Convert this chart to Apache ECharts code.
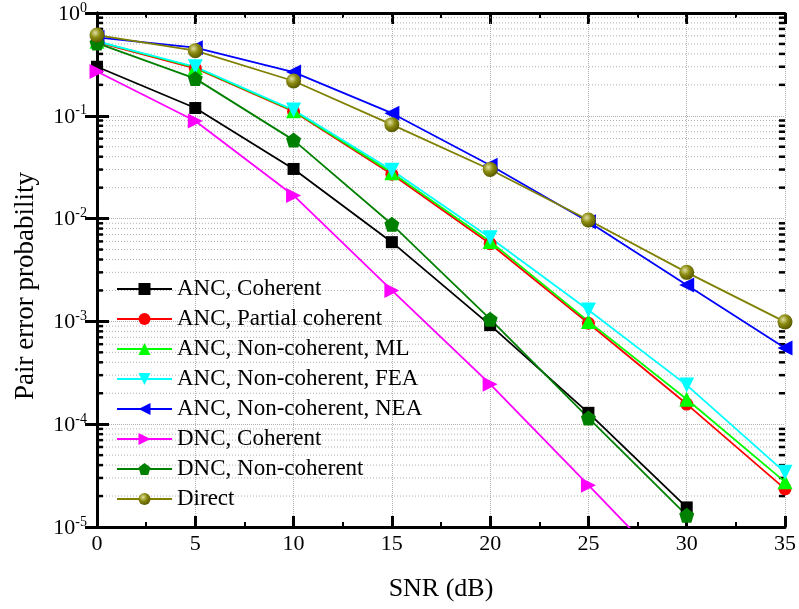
<!DOCTYPE html>
<html>
<head>
<meta charset="utf-8">
<script src="https://cdn.jsdelivr.net/npm/echarts@6/dist/echarts.min.js"></script>
<style>html,body{margin:0;padding:0;background:#fff}#c{width:799px;height:609px}</style>
</head>
<body>
<div id="c"></div>
<script>
const snr = [0, 5, 10, 15, 20, 25, 30, 35];
const ancCoherent = [0.30, 0.119, 0.0304, 0.0059, 9.2e-4, 1.29e-4, 1.55e-5];
const ancPartial = [0.52, 0.29, 0.11, 0.027, 0.0057, 9.6e-4, 1.57e-4, 2.35e-5];
const ancNcML = [0.53, 0.295, 0.112, 0.028, 0.006, 1.0e-3, 1.75e-4, 2.75e-5];
const ancNcFEA = [0.53, 0.30, 0.114, 0.0296, 0.0065, 1.29e-3, 2.4e-4, 3.4e-5];
const ancNcNEA = [0.58, 0.46, 0.266, 0.106, 0.033, 0.0093, 0.00226, 5.5e-4];
const dncCoherent = [0.27, 0.089, 0.0168, 0.0020, 2.45e-4, 2.55e-5, 2.6e-6];
const dncNc = [0.51, 0.23, 0.058, 0.0088, 1.05e-3, 1.15e-4, 1.3e-5];
const direct = [0.61, 0.43, 0.218, 0.082, 0.030, 0.0097, 0.0030, 9.9e-4];
const names = ['ANC, Coherent', 'ANC, Partial coherent', 'ANC, Non-coherent, ML',
  'ANC, Non-coherent, FEA', 'ANC, Non-coherent, NEA', 'DNC, Coherent', 'DNC, Non-coherent', 'Direct'];
const yMinorMantissas = [2, 3, 4, 5, 6, 7, 8, 9];
const yDecades = [-5, -4, -3, -2, -1];

const FONT = 'Liberation Serif';
const pentagon = 'path://M50,0 L97.6,34.5 L79.4,90.5 L20.6,90.5 L2.4,34.5 Z';
const ball = {type: 'radial', x: 0.38, y: 0.35, r: 0.65,
  colorStops: [{offset: 0, color: '#e0e0a0'}, {offset: 0.5, color: '#8a8a10'}, {offset: 1, color: '#5a5a00'}]};

function pairs(arr) { return arr.map((v, i) => [snr[i], v]); }

const minorVals = [];
yDecades.forEach(d => yMinorMantissas.forEach(m => minorVals.push([0, m * Math.pow(10, d)])));

function mk(name, data, color, symbol, size, rot, itemColor) {
  return {
    name: name, type: 'line', data: pairs(data), z: 3,
    symbol: symbol, symbolSize: size, symbolRotate: rot || 0,
    lineStyle: {color: color, width: 1.8},
    itemStyle: {color: itemColor || color},
    color: color
  };
}

const chart = echarts.init(document.getElementById('c'));
const axisLbl = {fontFamily: FONT, fontSize: 22, color: '#000'};
chart.setOption({
  animation: false,
  grid: {left: 97, top: 13, right: 14, bottom: 82},
  legend: {
    orient: 'vertical', left: 111, top: 272, itemWidth: 55, itemHeight: 15, itemGap: 6,
    textStyle: {fontFamily: FONT, fontSize: 23, color: '#000', lineHeight: 24},
    data: names
  },
  xAxis: [{
    type: 'value', min: 0, max: 35, interval: 5,
    name: 'SNR (dB)', nameLocation: 'middle', nameGap: 49,
    nameTextStyle: {fontFamily: FONT, fontSize: 26, color: '#000'},
    axisLine: {lineStyle: {color: '#000', width: 3}},
    axisTick: {inside: true, length: 11, lineStyle: {width: 3, color: '#000'}},
    minorTick: {show: true, splitNumber: 2, length: 5, lineStyle: {width: 2, color: '#000'}},
    axisLabel: Object.assign({margin: 6}, axisLbl),
    splitLine: {show: true, lineStyle: {type: 'dotted', color: '#b0b0b0', width: 1}}
  }, {
    type: 'value', position: 'top', min: 0, max: 35, interval: 5,
    axisLine: {lineStyle: {color: '#000', width: 3}},
    axisTick: {inside: true, length: 11, lineStyle: {width: 3, color: '#000'}},
    minorTick: {show: true, splitNumber: 2, length: 5, lineStyle: {width: 2, color: '#000'}},
    axisLabel: {show: false}, splitLine: {show: false}
  }],
  yAxis: [{
    type: 'log', logBase: 10, min: 1e-5, max: 1,
    name: 'Pair error probability', nameLocation: 'middle', nameGap: 58,
    nameTextStyle: {fontFamily: FONT, fontSize: 27, color: '#000', padding: [0, 32, 0, 0]},
    axisLine: {lineStyle: {color: '#000', width: 3}},
    axisTick: {inside: true, length: 12, lineStyle: {width: 3, color: '#000'}},
    axisLabel: {
      margin: 10,
      formatter: v => '{b|10}{s|' + Math.round(Math.log10(v)) + '}',
      rich: {
        b: {fontFamily: FONT, fontSize: 22, color: '#000', lineHeight: 24, verticalAlign: 'bottom'},
        s: {fontFamily: FONT, fontSize: 14, color: '#000', lineHeight: 14, verticalAlign: 'top'}
      }
    },
    splitLine: {show: true, lineStyle: {type: 'dotted', color: '#b0b0b0', width: 1}}
  }, {
    type: 'log', logBase: 10, min: 1e-5, max: 1, position: 'right',
    axisLine: {lineStyle: {color: '#000', width: 3}},
    axisTick: {inside: true, length: 12, lineStyle: {width: 3, color: '#000'}},
    axisLabel: {show: false}, splitLine: {show: false}
  }],
  series: [
    {
      type: 'custom', z: 1, silent: true, data: minorVals, clip: false,
      renderItem: function (params, api) {
        const v = api.value(1);
        const p0 = api.coord([0, v]);
        const p1 = api.coord([35, v]);
        return {type: 'group', children: [
          {type: 'line', shape: {x1: p0[0], y1: p0[1], x2: p1[0], y2: p1[1]},
            style: {stroke: '#b0b0b0', lineWidth: 1, lineDash: [1, 2]}},
          {type: 'line', shape: {x1: p0[0], y1: p0[1], x2: p0[0] + 6, y2: p0[1]},
            style: {stroke: '#000', lineWidth: 2.5}},
          {type: 'line', shape: {x1: p1[0] - 6, y1: p1[1], x2: p1[0], y2: p1[1]},
            style: {stroke: '#000', lineWidth: 2.5}}
        ]};
      }
    },
    mk(names[0], ancCoherent, '#000000', 'rect', 12),
    mk(names[1], ancPartial, '#ff0000', 'circle', 13),
    mk(names[2], ancNcML, '#00ff00', 'triangle', 15),
    mk(names[3], ancNcFEA, '#00ffff', 'triangle', 15, 180),
    mk(names[4], ancNcNEA, '#0000ff', 'triangle', 15, 90),
    mk(names[5], dncCoherent, '#ff00ff', 'triangle', 15, -90),
    mk(names[6], dncNc, '#008000', pentagon, 15),
    mk(names[7], direct, '#808000', 'circle', 15, 0, ball)
  ]
});
</script>
</body>
</html>
